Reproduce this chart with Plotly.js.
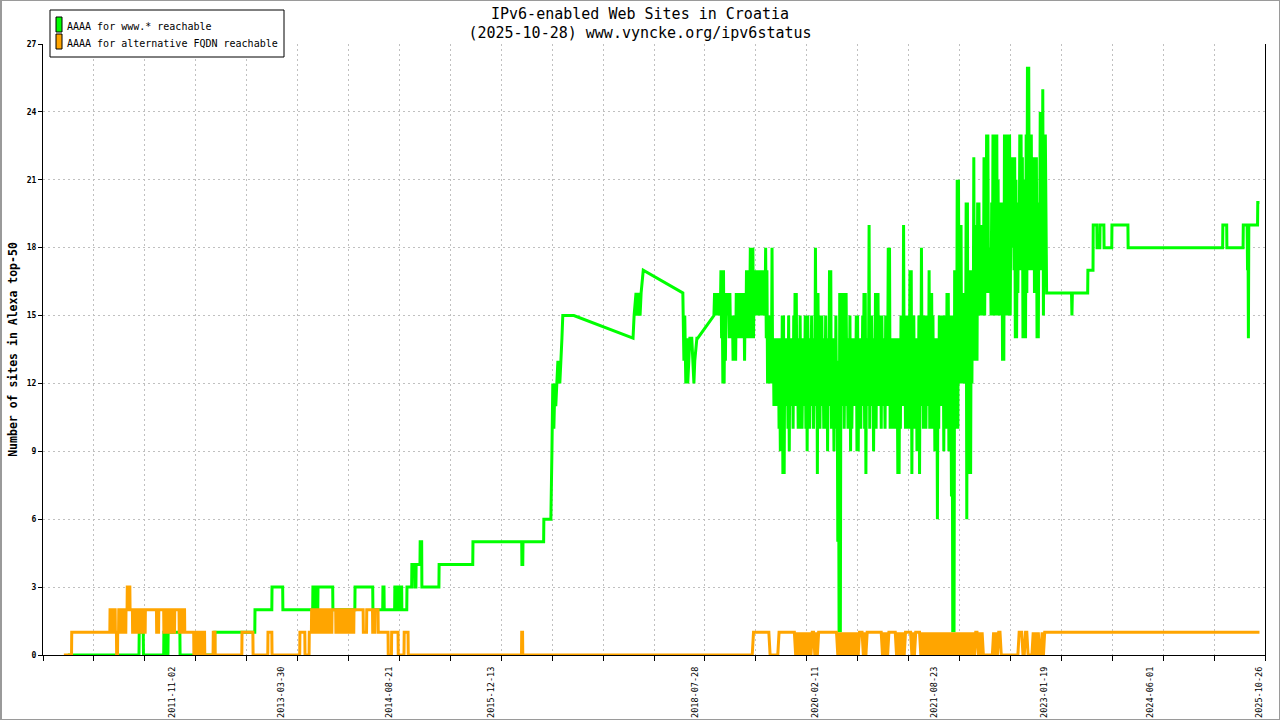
<!DOCTYPE html>
<html>
<head>
<meta charset="utf-8">
<script src="https://cdn.plot.ly/plotly-3.0.1.min.js"></script>
<style>
  html, body { margin: 0; padding: 0; background: #fff; }
  #chart { width: 1280px; height: 720px; }
  #frame {
    position: absolute; left: 0; top: 0; width: 1280px; height: 720px;
    box-sizing: border-box; border: 1px solid #9a9a9a; border-left-width: 2px;
    pointer-events: none;
  }
</style>
</head>
<body>
<div id="chart"></div>
<div id="frame"></div>
<script>
// IPv6-enabled web sites in Croatia (Alexa top-50)

const xStart = '2010-03-06';
const xEnd = '2025-11-23';
const gridCount = 24;

const labelDates = ['2011-11-02', '2013-03-30', '2014-08-21', '2015-12-13', '2018-07-28',
  '2020-02-11', '2021-08-23', '2023-01-19', '2024-06-01', '2025-10-26'];

const legendNames = ['AAAA for www.* reachable', 'AAAA for alternative FQDN reachable'];

// green: "www.*" reachable
const greenEarly = [
  ['2010-07-01', 0],
  ['2011-05-31', 0], ['2011-06-01', 1], ['2011-06-20', 1], ['2011-06-21', 0],
  ['2011-09-24', 0], ['2011-09-25', 1], ['2011-10-06', 1], ['2011-10-07', 0],
  ['2011-10-14', 0], ['2011-10-15', 1], ['2011-12-09', 1], ['2011-12-10', 0],
  ['2012-05-20', 0], ['2012-05-21', 1], ['2012-11-25', 1], ['2012-11-26', 2],
  ['2013-02-13', 2], ['2013-02-14', 3], ['2013-04-05', 3], ['2013-04-06', 2],
  ['2013-08-24', 2], ['2013-08-25', 3], ['2013-08-29', 3], ['2013-08-30', 2],
  ['2013-09-03', 2], ['2013-09-04', 3], ['2013-09-08', 3], ['2013-09-09', 2],
  ['2013-09-17', 2], ['2013-09-18', 3], ['2013-11-26', 3], ['2013-11-27', 2],
  ['2014-03-10', 2], ['2014-03-11', 3], ['2014-06-02', 3], ['2014-06-03', 2],
  ['2014-07-19', 2], ['2014-07-20', 3], ['2014-07-25', 3], ['2014-07-26', 2],
  ['2014-09-13', 2], ['2014-09-14', 3], ['2014-09-18', 3], ['2014-09-19', 2],
  ['2014-09-23', 2], ['2014-09-24', 3], ['2014-09-28', 3], ['2014-09-29', 2],
  ['2014-10-03', 2], ['2014-10-04', 3], ['2014-10-08', 3], ['2014-10-09', 2],
  ['2014-10-13', 2], ['2014-10-14', 3], ['2014-10-16', 3], ['2014-10-17', 2],
  ['2014-11-09', 2], ['2014-11-10', 3], ['2014-12-02', 3], ['2014-12-03', 4],
  ['2014-12-16', 4], ['2014-12-17', 3], ['2014-12-22', 3], ['2014-12-23', 4],
  ['2015-01-10', 4], ['2015-01-11', 5], ['2015-01-18', 5], ['2015-01-19', 3],
  ['2015-04-09', 3], ['2015-04-10', 4], ['2015-09-15', 4], ['2015-09-16', 5],
  ['2016-05-02', 5], ['2016-05-03', 4], ['2016-05-07', 4], ['2016-05-08', 5],
  ['2016-08-13', 5], ['2016-08-14', 6], ['2016-09-16', 6], ['2016-09-21', 9],
  ['2016-09-25', 12], ['2016-09-30', 10], ['2016-10-05', 12], ['2016-10-09', 11],
  ['2016-10-14', 12], ['2016-10-19', 13], ['2016-10-28', 12], ['2016-11-02', 13],
  ['2016-11-07', 14], ['2016-11-11', 15], ['2017-01-02', 15], ['2017-10-07', 14],
  ['2017-10-12', 15], ['2017-10-21', 16], ['2017-10-26', 15], ['2017-10-31', 16],
  ['2017-11-09', 15], ['2017-11-14', 16], ['2017-11-24', 17], ['2018-05-29', 16],
  ['2018-06-03', 13], ['2018-06-07', 15], ['2018-06-12', 12], ['2018-06-17', 14],
  ['2018-06-21', 12], ['2018-06-26', 13], ['2018-07-01', 14], ['2018-07-10', 14],
  ['2018-07-20', 12], ['2018-07-24', 13], ['2018-08-03', 14], ['2018-08-07', 14]
];

// dense part 2018-10 .. 2023-01: per 6-day bucket the lowest and highest reading
const greenStepStart = '2018-10-22';
const greenStepDays = 6;
const greenLow = [
  15, 15, 15, 15, 15, 15, 14, 12, 12, 13,
  15, 15, 14, 14, 14, 13, 13, 13, 15, 14,
  14, 14, 14, 14, 13, 14, 14, 14, 15, 14,
  14, 14, 15, 15, 15, 15, 15, 15, 15, 15,
  15, 14, 12, 12, 13, 12, 12, 11, 11, 12,
  11, 10, 9, 10, 8, 8, 11, 12, 10, 9,
  11, 12, 10, 11, 12, 11, 10, 10, 11, 10,
  11, 12, 10, 9, 11, 10, 12, 11, 10, 11,
  12, 8, 11, 10, 12, 11, 10, 11, 10, 9,
  11, 12, 10, 10, 9, 10, 11, 5, 1, 1,
  11, 12, 10, 11, 12, 10, 10, 9, 10, 11,
  11, 12, 9, 9, 11, 10, 12, 11, 10, 8,
  11, 12, 10, 11, 12, 9, 11, 10, 12, 11,
  11, 10, 12, 11, 10, 11, 12, 11, 10, 10,
  10, 11, 10, 11, 8, 8, 10, 11, 11, 12,
  10, 11, 10, 12, 10, 8, 10, 11, 10, 9,
  10, 8, 11, 12, 10, 11, 10, 12, 11, 10,
  10, 11, 10, 9, 9, 6, 10, 11, 12, 11,
  9, 10, 11, 10, 9, 9, 7, 1, 1, 11,
  10, 10, 12, 12, 12, 12, 12, 12, 6, 8,
  12, 8, 12, 13, 13, 13, 13, 15, 15, 15,
  15, 15, 15, 16, 16, 16, 16, 15, 15, 15,
  15, 15, 15, 15, 16, 15, 13, 13, 15, 15,
  15, 15, 15, 18, 18, 17, 14, 14, 16, 17,
  18, 17, 14, 14, 14, 16, 17, 17, 17, 17,
  17, 16, 16, 14, 14, 17, 17, 17, 15, 17
];
const greenHigh = [
  16, 16, 16, 16, 16, 17, 16, 17, 16, 16,
  16, 16, 16, 15, 15, 15, 15, 16, 16, 16,
  16, 16, 16, 16, 16, 17, 17, 17, 18, 18,
  18, 17, 17, 17, 17, 17, 17, 17, 17, 17,
  18, 17, 15, 15, 15, 18, 14, 14, 13, 14,
  14, 13, 14, 15, 15, 14, 13, 14, 15, 14,
  13, 14, 15, 16, 16, 13, 14, 15, 14, 13,
  14, 15, 15, 15, 13, 14, 15, 14, 13, 18,
  16, 16, 15, 14, 15, 13, 14, 15, 14, 14,
  17, 17, 14, 13, 14, 15, 13, 12, 16, 16,
  16, 16, 14, 16, 13, 14, 15, 14, 13, 14,
  14, 15, 15, 14, 13, 14, 15, 16, 16, 14,
  14, 19, 15, 15, 14, 13, 16, 16, 16, 15,
  15, 15, 14, 13, 15, 14, 18, 18, 14, 13,
  14, 13, 14, 13, 14, 14, 15, 14, 19, 15,
  15, 15, 14, 17, 17, 15, 15, 14, 14, 13,
  15, 15, 18, 15, 14, 15, 14, 15, 17, 16,
  16, 15, 14, 13, 14, 14, 15, 15, 14, 15,
  15, 14, 16, 16, 15, 14, 15, 14, 17, 17,
  21, 21, 19, 19, 16, 16, 16, 20, 20, 17,
  17, 17, 17, 22, 19, 19, 20, 20, 19, 19,
  19, 22, 20, 23, 23, 18, 18, 20, 23, 23,
  23, 23, 21, 20, 20, 20, 20, 23, 23, 22,
  23, 23, 20, 22, 22, 22, 21, 20, 20, 23,
  23, 22, 21, 21, 23, 26, 26, 23, 23, 21,
  22, 22, 22, 20, 20, 24, 24, 25, 22, 23
];

const greenLate = [
  ['2023-02-01', 16],
  ['2023-05-29', 16], ['2023-05-31', 15], ['2023-06-02', 16],
  ['2023-08-13', 16], ['2023-08-14', 17], ['2023-09-07', 17], ['2023-09-08', 19],
  ['2023-09-25', 19], ['2023-09-26', 18], ['2023-10-09', 18], ['2023-10-10', 19],
  ['2023-10-28', 19], ['2023-10-29', 18], ['2023-12-04', 18], ['2023-12-05', 19],
  ['2024-02-18', 19], ['2024-02-19', 18], ['2025-05-08', 18], ['2025-05-09', 19],
  ['2025-05-27', 19], ['2025-05-28', 18], ['2025-08-12', 18], ['2025-08-13', 19],
  ['2025-08-31', 19], ['2025-09-02', 17], ['2025-09-04', 19], ['2025-09-06', 14],
  ['2025-09-08', 19], ['2025-10-19', 19], ['2025-10-20', 20], ['2025-10-28', 20]
];

// orange: alternative FQDN reachable
const orangeEarly = [
  ['2010-06-12', 0], ['2010-07-18', 0], ['2010-07-19', 1],
  ['2011-01-14', 1], ['2011-01-15', 2], ['2011-01-20', 2], ['2011-01-21', 1],
  ['2011-01-29', 1], ['2011-01-30', 2], ['2011-02-08', 2], ['2011-02-09', 1],
  ['2011-02-14', 1], ['2011-02-15', 0], ['2011-02-19', 0], ['2011-02-20', 1],
  ['2011-02-24', 1], ['2011-02-25', 2], ['2011-03-02', 2], ['2011-03-03', 1],
  ['2011-03-08', 1], ['2011-03-09', 2], ['2011-03-17', 2], ['2011-03-18', 1],
  ['2011-03-30', 1], ['2011-03-31', 2], ['2011-04-05', 2], ['2011-04-06', 3],
  ['2011-04-18', 3], ['2011-04-19', 2], ['2011-04-30', 2], ['2011-05-01', 1],
  ['2011-05-10', 1], ['2011-05-11', 2], ['2011-05-19', 2], ['2011-05-20', 1],
  ['2011-05-29', 1], ['2011-05-30', 2], ['2011-06-04', 2], ['2011-06-05', 1],
  ['2011-06-12', 1], ['2011-06-13', 2], ['2011-06-22', 2], ['2011-06-23', 1],
  ['2011-06-29', 1], ['2011-06-30', 2], ['2011-08-21', 2], ['2011-08-22', 1],
  ['2011-08-31', 1], ['2011-09-01', 2], ['2011-09-24', 2], ['2011-09-25', 1],
  ['2011-10-04', 1], ['2011-10-05', 2], ['2011-10-16', 2], ['2011-10-17', 1],
  ['2011-10-26', 1], ['2011-10-27', 2], ['2011-11-04', 2], ['2011-11-05', 1],
  ['2011-11-14', 1], ['2011-11-15', 2], ['2011-12-05', 2], ['2011-12-06', 1],
  ['2011-12-18', 1], ['2011-12-19', 2], ['2011-12-31', 2], ['2012-01-01', 1],
  ['2012-02-12', 1], ['2012-02-13', 0], ['2012-02-25', 0], ['2012-02-26', 1],
  ['2012-03-08', 1], ['2012-03-09', 0], ['2012-03-21', 0], ['2012-03-22', 1],
  ['2012-04-03', 1], ['2012-04-04', 0], ['2012-05-13', 0], ['2012-05-14', 1],
  ['2012-05-22', 1], ['2012-05-23', 0], ['2012-09-25', 0], ['2012-09-26', 1],
  ['2012-11-16', 1], ['2012-11-17', 0], ['2013-01-25', 0], ['2013-01-26', 1],
  ['2013-02-13', 1], ['2013-02-14', 0], ['2013-06-24', 0], ['2013-06-25', 1],
  ['2013-07-18', 1], ['2013-07-19', 0], ['2013-08-07', 0], ['2013-08-08', 1],
  ['2013-08-18', 1], ['2013-08-19', 2], ['2013-08-26', 2], ['2013-08-27', 1],
  ['2013-09-04', 1], ['2013-09-05', 2], ['2013-09-14', 2], ['2013-09-15', 1],
  ['2013-09-23', 1], ['2013-09-24', 2], ['2013-10-04', 2], ['2013-10-05', 1],
  ['2013-10-15', 1], ['2013-10-16', 2], ['2013-10-24', 2], ['2013-10-25', 1],
  ['2013-11-03', 1], ['2013-11-04', 2], ['2013-11-12', 2], ['2013-11-13', 1],
  ['2013-11-22', 1], ['2013-11-23', 2], ['2013-12-10', 2], ['2013-12-11', 1],
  ['2013-12-18', 1], ['2013-12-19', 2], ['2013-12-29', 2], ['2013-12-30', 1],
  ['2014-01-08', 1], ['2014-01-09', 2], ['2014-01-17', 2], ['2014-01-18', 1],
  ['2014-01-26', 1], ['2014-01-27', 2], ['2014-02-06', 2], ['2014-02-07', 1],
  ['2014-02-14', 1], ['2014-02-15', 2], ['2014-02-23', 2], ['2014-02-24', 1],
  ['2014-03-05', 1], ['2014-03-06', 2], ['2014-04-18', 2], ['2014-04-19', 1],
  ['2014-05-04', 1], ['2014-05-05', 2], ['2014-06-01', 2], ['2014-06-02', 1],
  ['2014-06-12', 1], ['2014-06-13', 2], ['2014-06-27', 2], ['2014-06-28', 1],
  ['2014-08-13', 1], ['2014-08-14', 0], ['2014-08-29', 0], ['2014-08-30', 1],
  ['2014-09-29', 1], ['2014-09-30', 0], ['2014-10-27', 0], ['2014-10-28', 1],
  ['2014-11-15', 1], ['2014-11-16', 0], ['2016-05-01', 0], ['2016-05-02', 1],
  ['2016-05-06', 1], ['2016-05-07', 0]
];

const orangeStepStart = '2019-04-20';
const orangeStepDays = 6;
const orangeStepValues = [
  0,
  1, 1, 1, 1, 1, 1, 1, 1, 1, 1, 1, 1, 1,
  0, 0, 0, 0, 0, 0, 0,
  1, 1, 1, 1, 1, 1, 1, 1, 1, 1, 1, 1, 1,
  0, 1, 0, 1, 0, 1, 0, 1, 0, 1, 0, 1, 0,
  1, 1,
  0, 1, 0,
  1, 1, 1, 1, 1, 1, 1, 1, 1, 1, 1, 1, 1, 1, 1,
  0, 1, 0, 1, 0, 1, 0, 1, 0, 1, 0, 1, 0, 1, 0, 1, 0,
  1, 1, 1,
  0, 1, 0,
  1, 1, 1, 1, 1, 1, 1, 1, 1, 1, 1, 1,
  0, 1, 0, 1, 0, 1,
  1, 1, 1, 1, 1,
  0, 1, 0, 1, 0, 1, 0, 1,
  1, 1, 1, 1,
  0, 1, 0,
  1, 1, 1, 1,
  0, 1, 0, 1, 0, 1, 0, 1, 0, 1, 0, 1, 0, 1, 0, 1, 0, 1, 0, 1, 0, 1,
  0, 1, 0, 1, 0, 1, 0, 1, 0, 1, 0, 1, 0, 1, 0, 1, 0, 1, 0, 1, 0,
  1, 1,
  0, 1, 0, 1,
  0, 0, 0, 0, 0, 0, 0, 0,
  1, 0, 1, 0, 1, 1,
  0, 0, 0, 0, 0, 0, 0, 0, 0, 0, 0, 0, 0,
  0,
  1, 1, 1,
  0, 0,
  1, 1,
  0, 0, 0, 0,
  1, 0, 1, 0, 1, 0,
  0,
  1, 0, 1, 1
];

const orangeLate = [['2025-10-28', 1]];

const MONO = '"DejaVu Sans Mono", "Liberation Mono", monospace';
const DAY = 86400000;

function isoDay(t) {
  return new Date(t).toISOString().slice(0, 10);
}

function pushPairs(s, pairs) {
  pairs.forEach(p => { s.x.push(p[0]); s.y.push(p[1]); });
}

// green: early points, then low/high of each bucket (low at bucket start, high half a step later)
function buildGreen() {
  const s = { x: [], y: [] };
  pushPairs(s, greenEarly);
  const t0 = Date.parse(greenStepStart + 'T00:00:00Z');
  const step = greenStepDays * DAY;
  greenLow.forEach((lo, k) => {
    s.x.push(isoDay(t0 + k * step)); s.y.push(lo);
    s.x.push(isoDay(t0 + k * step + step / 2)); s.y.push(greenHigh[k]);
  });
  pushPairs(s, greenLate);
  return s;
}

function buildOrange() {
  const s = { x: [], y: [] };
  pushPairs(s, orangeEarly);
  const t0 = Date.parse(orangeStepStart + 'T00:00:00Z');
  orangeStepValues.forEach((v, i) => {
    s.x.push(isoDay(t0 + i * orangeStepDays * DAY)); s.y.push(v);
  });
  pushPairs(s, orangeLate);
  return s;
}

// evenly spaced grid lines over the whole date range (as gnuplot does)
function gridTicks() {
  const t0 = Date.parse(xStart + 'T00:00:00Z');
  const t1 = Date.parse(xEnd + 'T00:00:00Z');
  const out = [];
  for (let k = 0; k <= gridCount; k++) {
    out.push(new Date(t0 + (t1 - t0) * k / gridCount).toISOString().replace('T', ' ').slice(0, 19));
  }
  return out;
}

const green = buildGreen();
const orange = buildOrange();

const traces = [
  {
    x: green.x, y: green.y, name: legendNames[0],
    type: 'scatter', mode: 'lines', xaxis: 'x', yaxis: 'y',
    line: { color: '#00ff00', width: 3, simplify: false },
    hoverinfo: 'skip'
  },
  {
    x: orange.x, y: orange.y, name: legendNames[1],
    type: 'scatter', mode: 'lines', xaxis: 'x2', yaxis: 'y',
    line: { color: '#ffa500', width: 3, simplify: false },
    hoverinfo: 'skip'
  }
];

const GRID = '#c0c0c0';

// legend drawn gnuplot-style: framed box, narrow colour swatches
function legendShapes() {
  const base = { xref: 'paper', yref: 'paper', xsizemode: 'pixel', ysizemode: 'pixel', xanchor: 0, yanchor: 1 };
  return [
    Object.assign({}, base, { type: 'rect', x0: 7, x1: 241, y0: -13, y1: 34, line: { color: '#000', width: 1 }, fillcolor: '#fff' }),
    Object.assign({}, base, { type: 'rect', x0: 13, x1: 19, y0: 12, y1: 27, line: { color: '#000', width: 1 }, fillcolor: '#00ff00' }),
    Object.assign({}, base, { type: 'rect', x0: 13, x1: 19, y0: -5, y1: 10, line: { color: '#000', width: 1 }, fillcolor: '#ffa500' })
  ];
}

function legendTexts() {
  return legendNames.map((txt, i) => ({
    text: txt, xref: 'paper', yref: 'paper', x: 0, y: 1,
    xanchor: 'left', yanchor: 'middle', xshift: 22, yshift: i === 0 ? 18 : 1,
    showarrow: false, font: { family: MONO, size: 10, color: '#000' }
  }));
}

const layout = {
  width: 1280,
  height: 720,
  margin: { l: 43, r: 15, t: 44, b: 65, pad: 0 },
  paper_bgcolor: '#ffffff',
  plot_bgcolor: '#ffffff',
  showlegend: false,
  font: { family: MONO, color: '#000' },
  title: {
    text: 'IPv6-enabled Web Sites in Croatia<br>(2025-10-28) www.vyncke.org/ipv6status',
    font: { family: MONO, size: 15, color: '#000' },
    x: 0.5, xref: 'container', xanchor: 'center',
    y: 0.974, yref: 'container', yanchor: 'top'
  },
  xaxis: {
    type: 'date', range: [xStart, xEnd],
    tickmode: 'array', tickvals: gridTicks(), showticklabels: false,
    ticks: 'outside', ticklen: 5, tickcolor: '#000', tickwidth: 1,
    showgrid: true, gridcolor: GRID, griddash: '2px,3px', gridwidth: 1,
    showline: true, linecolor: '#000', linewidth: 1, zeroline: false
  },
  xaxis2: {
    type: 'date', range: [xStart, xEnd], overlaying: 'x', anchor: 'y', side: 'bottom',
    tickmode: 'array', tickvals: labelDates, ticktext: labelDates,
    tickangle: -90, tickfont: { family: MONO, size: 8.5, color: '#000' },
    ticks: '', ticklabelstandoff: 9,
    showgrid: false, showline: false, zeroline: false
  },
  yaxis: {
    range: [0, 27], tickmode: 'linear', tick0: 0, dtick: 3,
    ticks: 'outside', ticklen: 4, tickcolor: '#000',
    tickfont: { family: MONO, size: 8, color: '#000', weight: 'bold' },
    showgrid: true, gridcolor: GRID, griddash: '2px,3px', gridwidth: 1,
    showline: true, mirror: true, linecolor: '#000', linewidth: 1, zeroline: false,
    title: {
      text: 'Number of sites in Alexa top-50',
      font: { family: MONO, size: 11.5, color: '#000', weight: 'bold' },
      standoff: 6
    }
  },
  shapes: legendShapes(),
  annotations: legendTexts()
};

Plotly.newPlot('chart', traces, layout, { staticPlot: true, displayModeBar: false });
</script>
</body>
</html>
